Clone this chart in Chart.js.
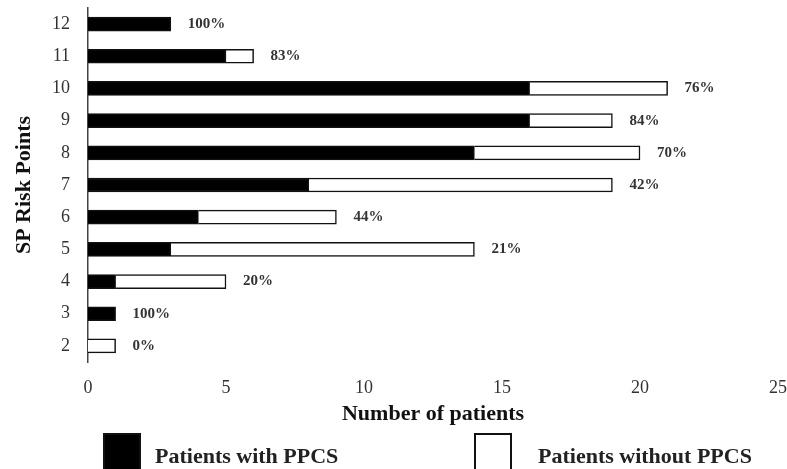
<!DOCTYPE html>
<html>
<head>
<meta charset="utf-8">
<script src="https://cdn.jsdelivr.net/npm/chart.js@4/dist/chart.umd.min.js"></script>
<style>
  html, body { margin: 0; padding: 0; background: #fff; }
  #wrap { width: 787px; height: 469px; position: relative; }
</style>
</head>
<body>
<div id="wrap"><canvas id="c" width="787" height="469"></canvas></div>
<script>
// Data (risk points ascending, bottom to top)
const riskPoints = ['2', '3', '4', '5', '6', '7', '8', '9', '10', '11', '12'];
const withPPCS = [0, 1, 1, 3, 4, 8, 14, 16, 16, 5, 3];
const withoutPPCS = [1, 0, 4, 11, 5, 11, 6, 3, 5, 1, 0];
const pctLabels = ['0%', '100%', '20%', '21%', '44%', '42%', '70%', '84%', '76%', '83%', '100%'];
const xTicks = [0, 5, 10, 15, 20, 25];
const seriesNames = ['Patients with PPCS', 'Patients without PPCS'];

const SERIF = '"Liberation Serif", "Times New Roman", serif';

const pctPlugin = {
  id: 'pctLabels',
  afterDatasetsDraw(chart) {
    const ctx = chart.ctx;
    const xs = chart.scales.x, ys = chart.scales.y;
    ctx.save();
    ctx.font = 'bold 15px ' + SERIF;
    ctx.fillStyle = '#333';
    ctx.textAlign = 'left';
    ctx.textBaseline = 'middle';
    riskPoints.forEach((rp, i) => {
      const total = withPPCS[i] + withoutPPCS[i];
      const x = xs.getPixelForValue(total) + 17;
      const y = ys.getPixelForValue(i);
      ctx.fillText(pctLabels[i], x, y);
    });
    ctx.restore();
  }
};

const legendPlugin = {
  id: 'customLegend',
  afterDraw(chart) {
    const ctx = chart.ctx;
    const items = [
      { x: 103, textX: 155, ds: chart.data.datasets[0] },
      { x: 474, textX: 538, ds: chart.data.datasets[1] }
    ];
    ctx.save();
    ctx.font = 'bold 22px ' + SERIF;
    ctx.textBaseline = 'middle';
    ctx.textAlign = 'left';
    items.forEach(it => {
      ctx.fillStyle = it.ds.backgroundColor;
      ctx.fillRect(it.x, 433, 38, 40);
      ctx.strokeStyle = '#111';
      ctx.lineWidth = 2;
      ctx.strokeRect(it.x + 1, 434, 36, 40);
      ctx.fillStyle = '#222';
      ctx.fillText(it.ds.label, it.textX, 457);
    });
    ctx.restore();
  }
};

new Chart(document.getElementById('c'), {
  type: 'bar',
  data: {
    labels: riskPoints,
    datasets: [
      {
        label: seriesNames[0],
        data: withPPCS,
        backgroundColor: '#000',
        borderColor: '#111',
        borderWidth: 1.5,
        barThickness: 14
      },
      {
        label: seriesNames[1],
        data: withoutPPCS,
        backgroundColor: '#fff',
        borderColor: '#111',
        borderWidth: 1.5,
        barThickness: 14
      }
    ]
  },
  options: {
    indexAxis: 'y',
    responsive: false,
    animation: false,
    devicePixelRatio: 1,
    layout: { padding: { left: 0, right: 9, top: 8, bottom: 39 } },
    plugins: {
      legend: { display: false },
      tooltip: { enabled: false }
    },
    scales: {
      x: {
        stacked: true,
        min: 0,
        max: 25,
        afterBuildTicks(scale) { scale.ticks = xTicks.map(v => ({ value: v })); },
        afterFit(scale) {
          scale.height = 68;
          scale.paddingLeft = 0;
          scale.paddingRight = 0;
        },
        grid: { display: false, drawTicks: false },
        border: { display: false },
        ticks: {
          padding: 15,
          color: '#333',
          font: { family: SERIF, size: 18 }
        },
        title: {
          display: true,
          text: 'Number of patients',
          color: '#111',
          font: { family: SERIF, size: 22, weight: 'bold' },
          padding: { top: 0, bottom: 2 }
        }
      },
      y: {
        stacked: true,
        reverse: true,
        afterFit(scale) {
          scale.width = 88;
          scale.paddingTop = 0;
          scale.paddingBottom = 0;
        },
        grid: { display: false, drawTicks: false },
        border: { display: true, color: '#444', width: 1.5 },
        ticks: {
          padding: 18,
          color: '#333',
          font: { family: SERIF, size: 18 }
        },
        title: {
          display: true,
          text: 'SP Risk Points',
          color: '#111',
          font: { family: SERIF, size: 22, weight: 'bold' },
          padding: { top: 11, bottom: 0 }
        }
      }
    }
  },
  plugins: [pctPlugin, legendPlugin]
});
</script>
</body>
</html>
